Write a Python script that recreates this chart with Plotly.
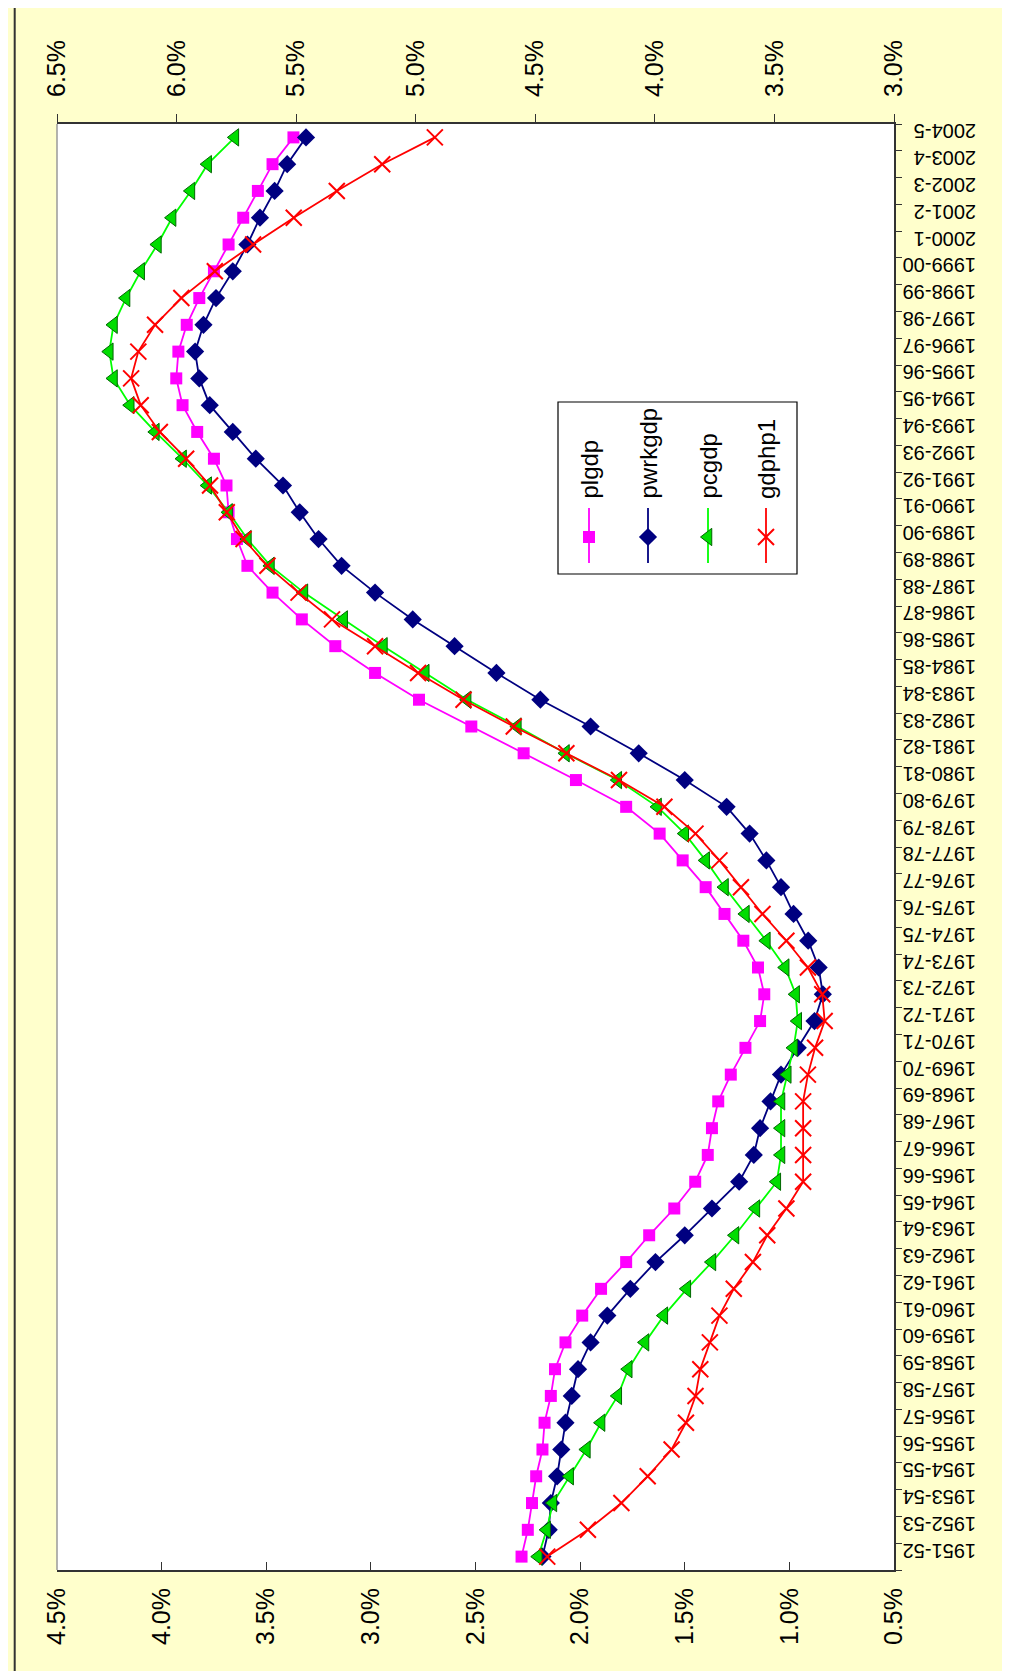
import plotly.graph_objects as go

years = ["1951-52", "1952-53", "1953-54", "1954-55", "1955-56", "1956-57", "1957-58",
         "1958-59", "1959-60", "1960-61", "1961-62", "1962-63", "1963-64", "1964-65",
         "1965-66", "1966-67", "1967-68", "1968-69", "1969-70", "1970-71", "1971-72",
         "1972-73", "1973-74", "1974-75", "1975-76", "1976-77", "1977-78", "1978-79",
         "1979-80", "1980-81", "1981-82", "1982-83", "1983-84", "1984-85", "1985-86",
         "1986-87", "1987-88", "1988-89", "1989-90", "1990-91", "1991-92", "1992-93",
         "1993-94", "1994-95", "1995-96", "1996-97", "1997-98", "1998-99", "1999-00",
         "2000-1", "2001-2", "2002-3", "2003-4", "2004-5"]

plgdp = [2.28, 2.25, 2.23, 2.21, 2.18, 2.17, 2.14, 2.12, 2.07, 1.99, 1.90, 1.78, 1.67, 1.55,
         1.45, 1.39, 1.37, 1.34, 1.28, 1.21, 1.14, 1.12, 1.15, 1.22, 1.31, 1.40, 1.51, 1.62,
         1.78, 2.02, 2.27, 2.52, 2.77, 2.98, 3.17, 3.33, 3.47, 3.59, 3.64, 3.68, 3.69, 3.75,
         3.83, 3.90, 3.93, 3.92, 3.88, 3.82, 3.75, 3.68, 3.61, 3.54, 3.47, 3.37]

pwrkgdp = [2.18, 2.15, 2.14, 2.11, 2.09, 2.07, 2.04, 2.01, 1.95, 1.87, 1.76, 1.64, 1.50, 1.37,
           1.24, 1.17, 1.14, 1.09, 1.04, 0.96, 0.88, 0.84, 0.86, 0.91, 0.98, 1.04, 1.11, 1.19,
           1.30, 1.50, 1.72, 1.95, 2.19, 2.40, 2.60, 2.80, 2.98, 3.14, 3.25, 3.34, 3.42, 3.55,
           3.66, 3.77, 3.82, 3.84, 3.80, 3.74, 3.66, 3.59, 3.53, 3.46, 3.40, 3.31]

pcgdp = [2.20, 2.16, 2.13, 2.05, 1.97, 1.90, 1.82, 1.77, 1.69, 1.60, 1.49, 1.37, 1.26, 1.16,
         1.06, 1.04, 1.04, 1.04, 1.01, 0.98, 0.96, 0.97, 1.02, 1.11, 1.21, 1.31, 1.40, 1.50,
         1.63, 1.82, 2.07, 2.30, 2.54, 2.74, 2.94, 3.13, 3.32, 3.48, 3.59, 3.68, 3.78, 3.90,
         4.03, 4.15, 4.23, 4.25, 4.23, 4.17, 4.10, 4.02, 3.95, 3.86, 3.78, 3.65]

# right (secondary) axis series
gdphp1 = [4.45, 4.28, 4.14, 4.03, 3.93, 3.87, 3.83, 3.81, 3.77, 3.73, 3.67, 3.59, 3.53, 3.45,
          3.38, 3.38, 3.38, 3.38, 3.36, 3.33, 3.29, 3.30, 3.36, 3.45, 3.55, 3.64, 3.73, 3.83,
          3.96, 4.15, 4.37, 4.59, 4.80, 4.99, 5.17, 5.35, 5.49, 5.62, 5.72, 5.79, 5.86, 5.96,
          6.07, 6.15, 6.19, 6.16, 6.09, 5.98, 5.84, 5.68, 5.51, 5.33, 5.14, 4.92]

series_names = ["plgdp", "pwrkgdp", "pcgdp", "gdphp1"]

W, H = 1010, 1671
L, R, T, B = 49, 886, 116, 1562
FONT = "Liberation Sans, Arial, Helvetica, sans-serif"

styles = {
    "plgdp": dict(line=dict(color="#FF00FF", width=1.8),
                  marker=dict(symbol="square", size=12, color="#FF00FF",
                              line=dict(color="#FF00FF", width=0))),
    "pwrkgdp": dict(line=dict(color="#000080", width=1.8),
                    marker=dict(symbol="diamond", size=14, color="#000080",
                                line=dict(color="#000080", width=0))),
    "pcgdp": dict(line=dict(color="#00FF00", width=1.8),
                  marker=dict(symbol="triangle-left", size=15, color="#00DD00",
                              line=dict(color="#006600", width=1))),
    "gdphp1": dict(line=dict(color="#FF0000", width=1.8),
                   marker=dict(symbol="x-thin", size=16, color="#FF0000",
                               line=dict(color="#FF0000", width=2))),
}

fig = go.Figure()
data_map = {"plgdp": plgdp, "pwrkgdp": pwrkgdp, "pcgdp": pcgdp, "gdphp1": gdphp1}
for name in series_names:
    fig.add_trace(go.Scatter(
        x=data_map[name], y=years, mode="lines+markers", name=name,
        xaxis="x2" if name == "gdphp1" else "x", yaxis="y",
        showlegend=False, **styles[name]))

# legend drawn in pixel coordinates on hidden overlay axes
leg_box = (550, 394, 789, 566)
leg_x = [581, 640, 700, 758]
leg_line_y = (500, 555)
leg_marker_y = 529
leg_text_y = 493

shapes = []
shapes.append(dict(type="rect", xref="x3", yref="y3", x0=leg_box[0], y0=leg_box[1],
                   x1=leg_box[2], y1=leg_box[3], fillcolor="white",
                   line=dict(color="black", width=1.2), layer="below"))
annotations = []
for name, lx in zip(series_names, leg_x):
    st = styles[name]
    shapes.append(dict(type="line", xref="x3", yref="y3", x0=lx, x1=lx,
                       y0=leg_line_y[0], y1=leg_line_y[1],
                       line=dict(color=st["line"]["color"], width=1.8), layer="below"))
    fig.add_trace(go.Scatter(x=[lx], y=[leg_marker_y], xaxis="x3", yaxis="y3",
                             mode="markers", marker=st["marker"], showlegend=False,
                             hoverinfo="skip"))
    annotations.append(dict(xref="x3", yref="y3", x=lx, y=leg_text_y, text=name,
                            textangle=-90, showarrow=False, xanchor="center",
                            yanchor="bottom", font=dict(family=FONT, size=24, color="black")))

def px(xp):
    return (xp - L) / (R - L)

def py(yp):
    return (B - yp) / (B - T)

# outer chart border (left and bottom visible)
shapes.append(dict(type="line", xref="paper", yref="paper", x0=px(6.7), x1=px(6.7),
                   y0=py(1666), y1=py(-20), line=dict(color="#333333", width=2)))
shapes.append(dict(type="line", xref="paper", yref="paper", x0=px(6.7), x1=px(1040),
                   y0=py(1666), y1=py(1666), line=dict(color="#333333", width=2)))
# plot area left edge
shapes.append(dict(type="line", xref="paper", yref="paper", x0=0, x1=0, y0=0, y1=1,
                   line=dict(color="#9A9A9A", width=1.5)))

tick_font = dict(family=FONT, size=25, color="black")

fig.update_layout(
    width=W, height=H,
    margin=dict(l=L, r=W - R, t=T, b=H - B, pad=0),
    paper_bgcolor="#FFFFCC", plot_bgcolor="white",
    font=dict(family=FONT, color="black"),
    xaxis=dict(range=[4.5, 0.5], tick0=0.5, dtick=0.5, tickformat=".1f", ticksuffix="%",
               showgrid=False, zeroline=False, showline=True, linecolor="#333333",
               linewidth=2, ticks="inside", ticklen=8, tickcolor="#333333",
               tickangle=-90, tickfont=tick_font, ticklabelstandoff=6, side="bottom"),
    xaxis2=dict(range=[6.5, 3.0], tick0=3.0, dtick=0.5, tickformat=".1f", ticksuffix="%",
                overlaying="x", side="top", anchor="y",
                showgrid=False, zeroline=False, showline=True, linecolor="#333333",
                linewidth=2, ticks="outside", ticklen=8, tickcolor="#333333",
                tickangle=-90, tickfont=tick_font, ticklabelstandoff=12),
    yaxis=dict(type="category", categoryorder="array", categoryarray=years,
               range=[-0.5, len(years) - 0.5], side="right", showgrid=False,
               zeroline=False, showline=True, linecolor="#333333", linewidth=2,
               ticks="outside", ticklen=6, tickcolor="#333333", tickson="boundaries",
               tickangle=180, tickfont=dict(family=FONT, size=20, color="black"),
               ticklabelstandoff=76),
    xaxis3=dict(range=[L, R], overlaying="x", visible=False, anchor="y3"),
    yaxis3=dict(range=[B, T], overlaying="y", visible=False, anchor="x3"),
    shapes=shapes, annotations=annotations,
)

fig.write_html("out.html")
